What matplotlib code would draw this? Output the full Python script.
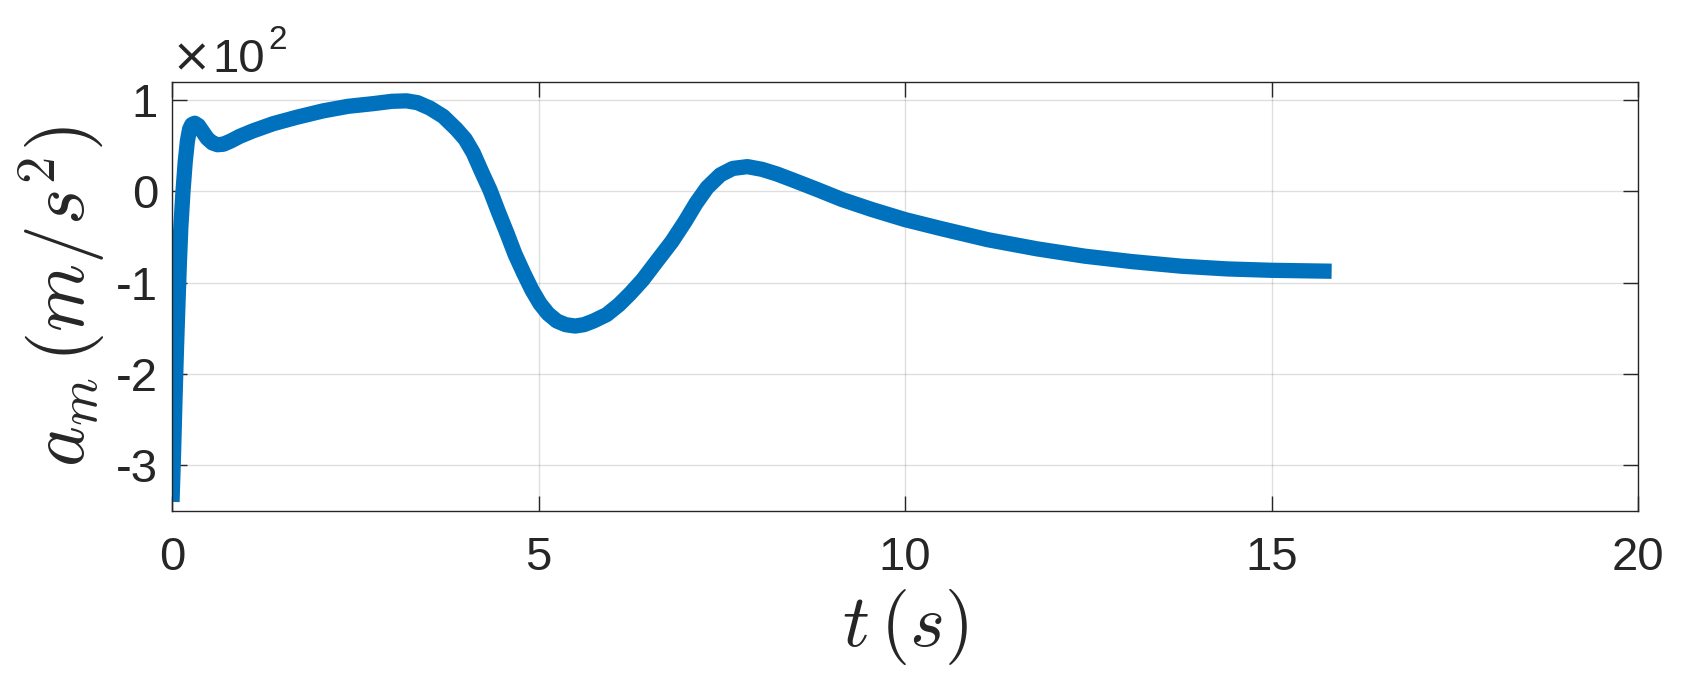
import matplotlib
matplotlib.use("Agg")
import matplotlib.pyplot as plt

# time (s)
t = [0.0, 0.02, 0.04, 0.06, 0.08, 0.10, 0.12, 0.15, 0.18, 0.21, 0.24, 0.27,
     0.31, 0.36, 0.42, 0.48, 0.55, 0.62, 0.70, 0.80, 0.92, 1.10, 1.38, 1.70,
     2.06, 2.40, 2.75, 3.00, 3.20, 3.35, 3.52, 3.70, 3.88, 4.00, 4.11, 4.22,
     4.34, 4.45, 4.57, 4.68, 4.80, 4.91, 5.02, 5.13, 5.25, 5.37, 5.50, 5.62,
     5.75, 5.93, 6.10, 6.25, 6.42, 6.60, 6.82, 7.00, 7.15, 7.30, 7.48, 7.65,
     7.85, 8.05, 8.25, 8.48, 8.80, 9.14, 9.55, 10.0, 10.5, 11.13, 11.8, 12.45,
     13.1, 13.77, 14.4, 15.0, 15.82]
# a_m in units of 10^2 m/s^2
a = [-3.40, -2.90, -2.30, -1.75, -1.26, -0.80, -0.40, 0.00, 0.32, 0.55, 0.68, 0.73,
     0.745, 0.72, 0.65, 0.58, 0.53, 0.51, 0.515, 0.55, 0.60, 0.66, 0.74, 0.81,
     0.88, 0.93, 0.96, 0.985, 0.99, 0.97, 0.91, 0.82, 0.68, 0.57, 0.42, 0.22,
     0.01, -0.22, -0.46, -0.69, -0.90, -1.08, -1.23, -1.34, -1.42, -1.46, -1.475, -1.46,
     -1.42, -1.35, -1.24, -1.12, -0.97, -0.78, -0.55, -0.33, -0.13, 0.04, 0.18, 0.25,
     0.27, 0.24, 0.19, 0.12, 0.02, -0.09, -0.20, -0.31, -0.41, -0.53, -0.63, -0.71,
     -0.77, -0.82, -0.85, -0.865, -0.875]

xticks = [0, 5, 10, 15, 20]
yticks = [-3, -2, -1, 0, 1]

plt.rcParams['mathtext.fontset'] = 'cm'
plt.rcParams['font.family'] = ['Liberation Sans', 'DejaVu Sans']

fig = plt.figure(figsize=(16.88, 6.84), dpi=100)
ax = fig.add_axes([0.1019, 0.2529, 0.8685, 0.6277])

dark = (0.15, 0.15, 0.15)
ax.plot(t, a, color='#0072BD', lw=11, solid_capstyle='butt', solid_joinstyle='round')

ax.set_xlim(0, 20)
ax.set_ylim(-3.5, 1.2)
ax.set_xticks(xticks)
ax.set_yticks(yticks)
ax.set_xticklabels([str(v) for v in xticks])
ax.set_yticklabels([str(v) for v in yticks])

ax.grid(True, color=(0.15, 0.15, 0.15), alpha=0.15, lw=1.0)
ax.set_axisbelow(True)
ax.tick_params(direction='in', length=11, width=1.0, color=dark, labelcolor=dark,
               labelsize=34, top=True, right=True)
ax.tick_params(axis='x', pad=18)
ax.tick_params(axis='y', pad=10)
for s in ax.spines.values():
    s.set_color(dark)
    s.set_linewidth(1.0)

ax.set_xlabel(r'$t\,(s)$', fontsize=54, color=dark, labelpad=5)
ax.set_ylabel(r'$a_m\,(m/s^2)$', fontsize=56, color=dark, labelpad=6)

ax.text(0.0, 1.023, '\u00d7', transform=ax.transAxes, fontsize=34,
        family='DejaVu Sans', color=dark, ha='left', va='baseline')
ax.text(0.0275, 1.023, '10', transform=ax.transAxes, fontsize=34,
        color=dark, ha='left', va='baseline')
ax.text(0.066, 1.076, '2', transform=ax.transAxes, fontsize=24,
        color=dark, ha='left', va='baseline')

fig.savefig('out.png', dpi=100, facecolor='white')
